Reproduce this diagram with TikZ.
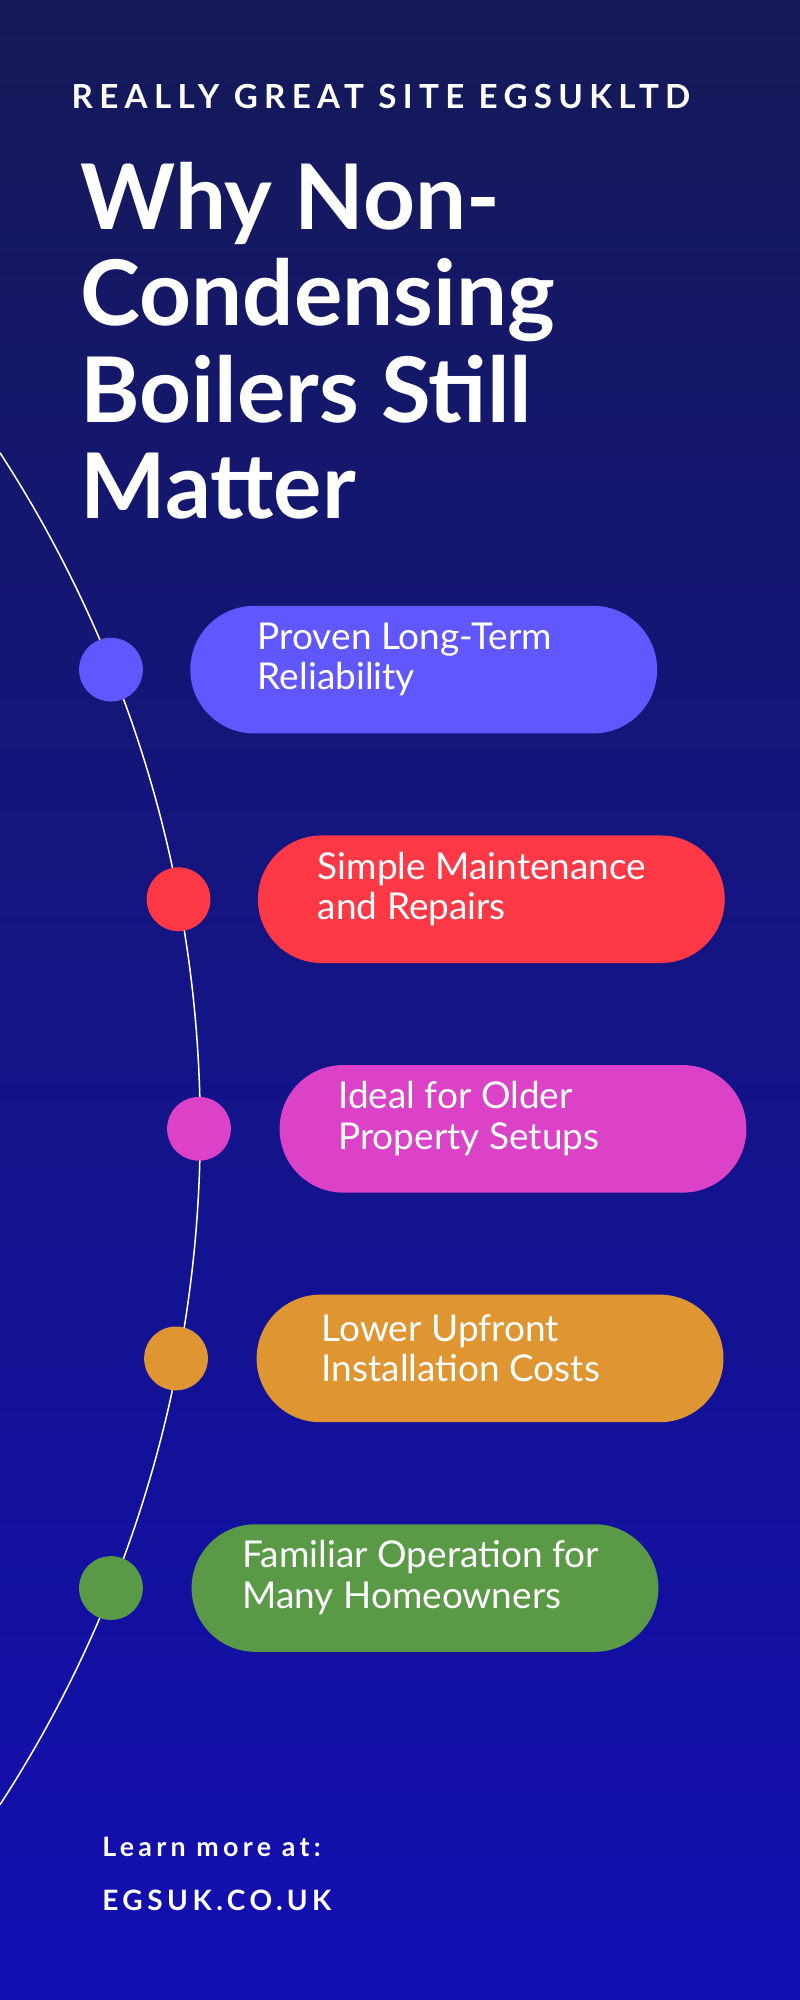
\documentclass[tikz,border=0pt]{standalone}
\usepackage{fontspec}
\setmainfont{Lato}
\newfontfamily\spaced[LetterSpace=19]{Lato}
\newfontfamily\spacedb[LetterSpace=16]{Lato}
\usetikzlibrary{calc}
\definecolor{cA}{HTML}{6157FF}
\definecolor{cB}{HTML}{FF3846}
\definecolor{cC}{HTML}{DB42C8}
\definecolor{cD}{HTML}{E09533}
\definecolor{cE}{HTML}{5A9A47}
\definecolor{bgtop}{HTML}{141A58}
\definecolor{bgbot}{HTML}{130EB2}
\tikzset{
  pill/.style={rounded corners=50pt,minimum width=366pt,minimum height=100pt,inner sep=0pt},
  pilltext/.style={text=white,font=\fontsize{29}{32}\selectfont,align=left,anchor=west,inner sep=0pt},
  dot/.style={circle,minimum size=50pt,inner sep=0pt},
}
\begin{document}
\begin{tikzpicture}[x=1pt,y=-1pt]
\shade[top color=bgtop,bottom color=bgbot] (0,0) rectangle (627,1568);
\useasboundingbox (0,0) rectangle (627,1568);
\node[anchor=west,text=white,font=\spaced\bfseries\fontsize{26}{30}\selectfont,inner sep=0pt] (site) at (56,76) {REALLY GREAT SITE EGSUKLTD};
\node[anchor=north west,text=white,font=\bfseries\fontsize{71}{75.5}\selectfont,align=left,inner sep=0pt] (title) at (63,127) {Why Non-\\Condensing\\Boilers Still\\Matter};
\draw[white,line width=1.2pt] (0,355) arc[start angle=-33,end angle=33,radius=973] coordinate (arcend);
\foreach \i/\col/\dx/\px/\py/\tx/\txt in {
 1/cA/87/149/525/53/{Proven Long-Term\\Reliability},
 2/cB/140/202/705/47/{Simple Maintenance\\and Repairs},
 3/cC/156/219/885/46/{Ideal for Older\\Property Setups},
 4/cD/138/201/1065/51/{Lower Upfront\\Installation Costs},
 5/cE/87/150/1245/40/{Familiar Operation for\\Many Homeowners}}{
  \node[dot,fill=\col] (d\i) at (\dx,\py) {};
  \node[pill,fill=\col,anchor=west] (p\i) at (\px,\py) {};
  \node[pilltext] (t\i) at ($(p\i.west)+(\tx,-8)$) {\txt};
}
\node[anchor=west,text=white,font=\spacedb\bfseries\fontsize{21}{24}\selectfont,inner sep=0pt] (learn) at (80,1448) {Learn more at:};
\node[anchor=west,text=white,font=\spacedb\bfseries\fontsize{22}{26}\selectfont,inner sep=0pt] (url) at (80,1490) {EGSUK.CO.UK};
\end{tikzpicture}
\end{document}
